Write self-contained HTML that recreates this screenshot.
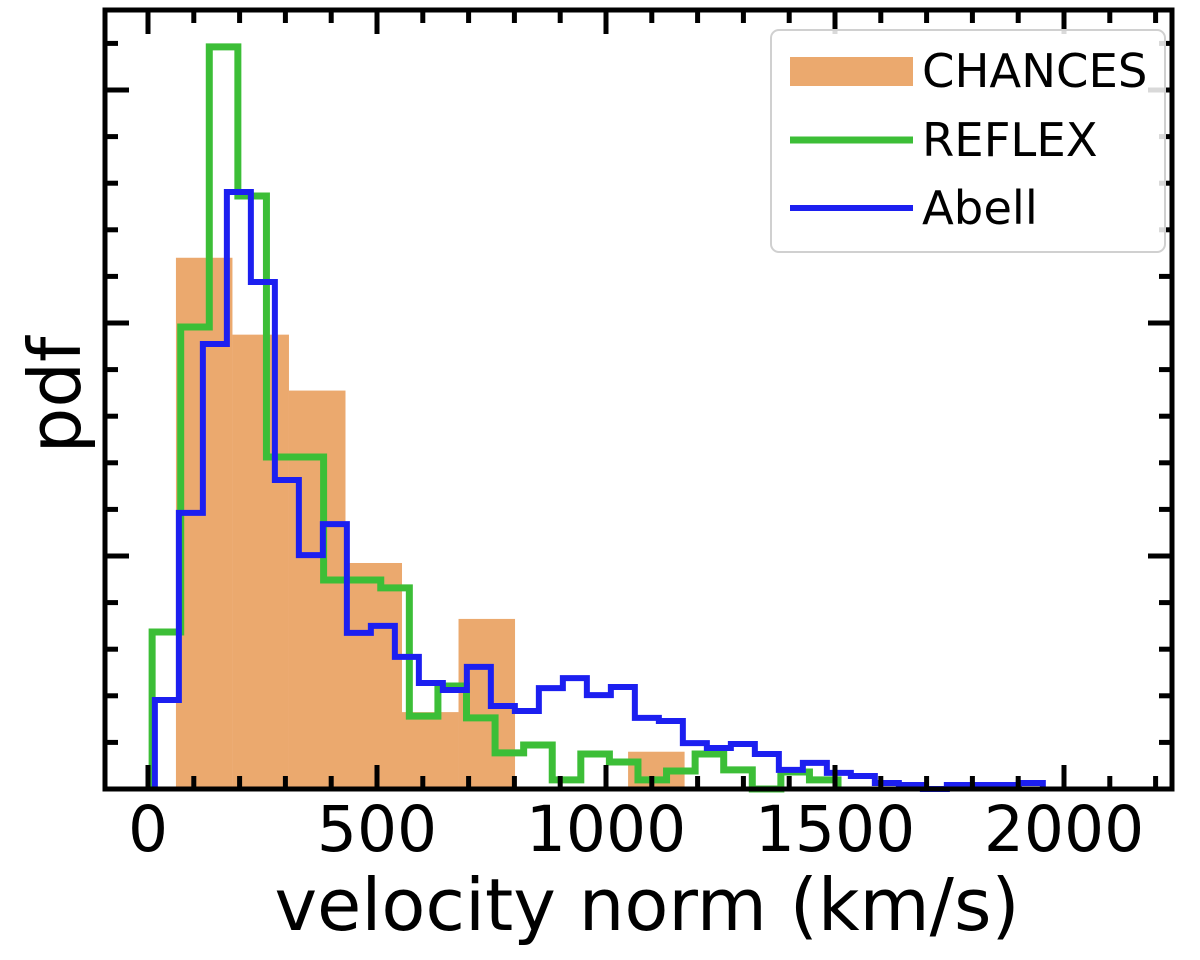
<!DOCTYPE html>
<html><head><meta charset="utf-8"><style>body{margin:0;background:#fff}svg{display:block}text{font-family:"DejaVu Sans","Liberation Sans",sans-serif}</style></head>
<body>
<svg id="chart" width="1200" height="960" xmlns="http://www.w3.org/2000/svg">
<g id="marks"></g>
<g id="axes"></g>
<g id="legend">
<rect x="771" y="30" width="394" height="222" rx="8" fill="#fff" fill-opacity="0.85" stroke="#d0d0d0" stroke-width="2"/>
<rect x="790" y="57" width="123" height="29" fill="#eba96e"/>
<text x="922" y="87" font-size="46.5">CHANCES</text>
<line x1="790" y1="140" x2="913" y2="140" stroke="#3cbe37" stroke-width="7"/>
<text x="922" y="156" font-size="46.5">REFLEX</text>
<line x1="790" y1="208" x2="913" y2="208" stroke="#1c1ff0" stroke-width="6"/>
<text x="922" y="224" font-size="46.5">Abell</text>
</g>
<text x="647" y="930" font-size="72" text-anchor="middle">velocity norm (km/s)</text>
<text transform="translate(80,395) rotate(-90)" font-size="72" text-anchor="middle">pdf</text>
</svg>
<script>
const xTickValues = [0, 500, 1000, 1500, 2000];
const chancesStart = 61, chancesWidth = 123.4;
const chancesValues = [2.28, 1.95, 1.71, 0.97, 0.33, 0.73, 0, 0, 0.16];
const reflexStart = 9, reflexWidth = 62.4;
const reflexValues = [0.674, 1.983, 3.185, 2.545, 1.425, 1.425, 0.897, 0.897, 0.863, 0.313, 0.442, 0.305, 0.155, 0.189, 0.039, 0.150, 0.116, 0.039, 0.077, 0.150, 0.082, 0, 0.073, 0.039];
const abellStart = 15, abellWidth = 52.4;
const abellValues = [0.382, 1.185, 1.910, 2.562, 2.176, 1.326, 1.004, 1.137, 0.670, 0.700, 0.567, 0.455, 0.425, 0.524, 0.356, 0.335, 0.433, 0.476, 0.403, 0.438, 0.305, 0.292, 0.197, 0.176, 0.193, 0.150, 0.082, 0.112, 0.069, 0.056, 0.026, 0.017, 0, 0.017, 0.017, 0.017, 0.026];

const L=105, R=1172, T=10, B=789;
const xS = v => 148 + v*0.458;
const yS = v => B - v*233;
const NS='http://www.w3.org/2000/svg';
const marks=document.getElementById('marks'), axes=document.getElementById('axes');
function mk(tag, attrs, parent){const e=document.createElementNS(NS,tag);for(const k in attrs)e.setAttribute(k,attrs[k]);parent.appendChild(e);return e;}

chancesValues.forEach((v,i)=>{
  if(v<=0) return;
  const x0=xS(chancesStart+i*chancesWidth), x1=xS(chancesStart+(i+1)*chancesWidth);
  const r=mk('rect',{x:x0,y:yS(v),width:x1-x0,height:B-yS(v),fill:'#eba96e'},marks);
  
  
});
function stepPath(start,w,vals){
  let d='M'+xS(start)+','+B;
  vals.forEach((v,i)=>{d+=' L'+xS(start+i*w)+','+yS(v)+' L'+xS(start+(i+1)*w)+','+yS(v);});
  d+=' L'+xS(start+vals.length*w)+','+B;
  return d;
}
const g=mk('path',{d:stepPath(reflexStart,reflexWidth,reflexValues),fill:'none',stroke:'#3cbe37','stroke-width':7,'stroke-linejoin':'miter'},marks);


const b=mk('path',{d:stepPath(abellStart,abellWidth,abellValues),fill:'none',stroke:'#1c1ff0','stroke-width':6,'stroke-linejoin':'miter'},marks);



for(let v=0; v<=2300; v+=100){
  const x=xS(v); if(x<L||x>R) continue;
  const len = v%500===0 ? 24 : 13;
  mk('line',{x1:x,y1:B,x2:x,y2:B-len,stroke:'#000','stroke-width':5},axes);
  mk('line',{x1:x,y1:T,x2:x,y2:T+len,stroke:'#000','stroke-width':5},axes);
}
for(let k=0;k<=17;k++){
  const y=B-k*233/5; if(y<T) continue;
  const len = k%5===0 ? 24 : 13;
  mk('line',{x1:L,y1:y,x2:L+len,y2:y,stroke:'#000','stroke-width':5},axes);
  mk('line',{x1:R,y1:y,x2:R-len,y2:y,stroke:'#000','stroke-width':5},axes);
}
xTickValues.forEach(v=>{
  const t=mk('text',{x:xS(v),y:851,'font-size':63,'text-anchor':'middle'},axes);
  t.textContent=v;
  
  
});
const frame=mk('rect',{x:L,y:T,width:R-L,height:B-T,fill:'none',stroke:'#000','stroke-width':5},axes);


</script>
</body></html>
